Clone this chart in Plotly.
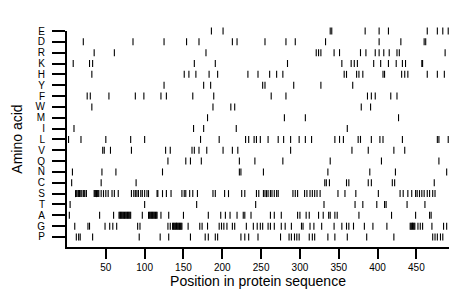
import plotly.graph_objects as go

# Amino acid categories, bottom to top
amino_acids = ["P", "G", "A", "T", "S", "C", "N", "Q", "V", "L",
               "I", "M", "W", "F", "Y", "H", "K", "R", "D", "E"]

# Residue positions for each amino acid
pos_E = [186, 201, 339, 341, 384, 402, 414, 464, 477, 484, 491]
pos_D = [21, 85, 125, 154, 170, 213, 219, 255, 282, 294, 333, 402, 430, 460, 462]
pos_R = [35, 61, 179, 321, 324, 327, 344, 351, 378, 385, 397, 402, 408, 415, 425, 428, 487]
pos_K = [8, 29, 33, 164, 191, 284, 354, 366, 370, 374, 395, 404, 414, 424, 432, 436, 457, 458]
pos_H = [32, 151, 157, 166, 183, 194, 233, 246, 261, 270, 278, 357, 360, 373, 376, 381,
         407, 409, 431, 435, 439, 464, 477, 486]
pos_Y = [125, 176, 185, 252, 255, 292, 327, 368]
pos_F = [26, 30, 54, 88, 99, 121, 128, 162, 189, 263, 282, 387, 392, 397, 417, 425]
pos_W = [32, 188, 211, 216, 379, 391]
pos_M = [181, 280, 307, 427]
pos_I = [9, 163, 176, 218, 361]
pos_L = [2, 18, 50, 82, 100, 172, 196, 230, 234, 241, 244, 249, 259, 272, 279, 288, 299,
         307, 315, 345, 351, 356, 375, 378, 392, 403, 407, 432, 477, 479, 491]
pos_V = [46, 48, 56, 83, 127, 133, 161, 164, 170, 180, 201, 213, 220, 288, 367, 388, 421, 435]
pos_Q = [130, 153, 159, 173, 222, 242, 278, 339, 405, 479]
pos_N = [7, 45, 63, 123, 222, 224, 253, 336, 390, 423, 489]
pos_C = [6, 44, 89, 332, 334, 338, 360, 363, 388, 392, 419, 422, 473]
pos_S = [11, 12, 14, 15, 16, 17, 19, 21, 22, 23, 25, 35, 36, 37, 38, 39, 40, 41,
         44, 47, 50, 53, 58, 61, 66, 83, 86, 88, 90, 92, 95, 97, 100, 103, 105,
         116, 117, 123, 128, 134, 148, 151, 153, 158, 162, 168, 188, 191, 203, 208,
         225, 229, 244, 247, 253, 255, 257, 259, 262, 264, 267, 270, 272,
         291, 294, 297, 306, 309, 313, 316, 319, 322, 326, 349, 358, 372, 401,
         429, 433, 439, 444, 449, 451, 454, 457, 460, 464, 467, 471, 474]
pos_T = [4, 100, 167, 243, 331, 371, 381, 399, 409, 411, 438, 461]
pos_A = [3, 42, 60, 67, 68, 69, 70, 71, 72, 73, 74, 75, 76, 77, 78, 79, 80, 81, 82,
         97, 105, 106, 107, 108, 109, 110, 111, 112, 113, 114, 115, 116, 121, 131, 150,
         182, 198, 204, 210, 219, 227, 229, 237, 262, 267, 276, 297, 300, 308, 312,
         324, 330, 337, 339, 345, 348, 376, 418, 449, 467, 469]
pos_G = [10, 27, 29, 49, 55, 59, 64, 91, 94, 130, 133, 136, 137, 138, 139, 140, 141, 142,
         143, 144, 145, 146, 147, 148, 156, 171, 174, 181, 196, 199, 202, 206, 213, 216,
         231, 240, 245, 249, 252, 259, 262, 267, 276, 281, 289, 302, 304, 313, 318, 328,
         344, 354, 360, 363, 369, 383, 394, 412, 442, 443, 444, 445, 446, 447, 448,
         452, 455, 458, 470, 485, 489]
pos_P = [12, 15, 17, 33, 93, 120, 131, 159, 178, 182, 191, 194, 224, 229, 234, 246, 275,
         286, 289, 293, 296, 299, 312, 316, 319, 336, 345, 361, 386, 421,
         471, 474, 477, 481, 484]

positions = {
    "P": pos_P, "G": pos_G, "A": pos_A, "T": pos_T, "S": pos_S, "C": pos_C,
    "N": pos_N, "Q": pos_Q, "V": pos_V, "L": pos_L, "I": pos_I, "M": pos_M,
    "W": pos_W, "F": pos_F, "Y": pos_Y, "H": pos_H, "K": pos_K, "R": pos_R,
    "D": pos_D, "E": pos_E,
}

x_ticks = [50, 100, 150, 200, 250, 300, 350, 400, 450]

xs, ys = [], []
for aa in amino_acids:
    for p in positions[aa]:
        xs.append(p)
        ys.append(aa)

fig = go.Figure()
fig.add_trace(go.Scatter(
    x=xs, y=ys, mode="markers",
    marker=dict(symbol="line-ns", size=5, color="black",
                line=dict(width=1.1, color="black")),
    cliponaxis=False, hoverinfo="x+y", showlegend=False,
))

fig.update_layout(
    width=460, height=299,
    margin=dict(l=59, r=19, t=23, b=60),
    paper_bgcolor="white", plot_bgcolor="white",
    font=dict(family="Liberation Sans, Arial, sans-serif", color="black"),
)
fig.update_xaxes(
    range=[0, 492], tickmode="array", tickvals=x_ticks, ticks="outside", ticklen=10,
    tickwidth=2, tickcolor="black", showline=True, linewidth=2, linecolor="black",
    showgrid=False, zeroline=False, tickfont=dict(size=10), automargin=False,
    title=dict(text="Position in protein sequence", font=dict(size=14), standoff=0),
)
fig.update_yaxes(
    type="category", categoryorder="array", categoryarray=amino_acids,
    tickmode="array", tickvals=amino_acids, ticktext=amino_acids,
    range=[-0.925, 19], ticks="outside", ticklen=13, tickwidth=2, tickcolor="black",
    showline=True, linewidth=2, linecolor="black", showgrid=False, zeroline=False,
    tickfont=dict(size=10, family="Liberation Sans, Arial, sans-serif"),
    ticklabelstandoff=5, automargin=False,
    title=dict(text="Amino acid", font=dict(size=14), standoff=10),
)

fig.write_html("out.html")
